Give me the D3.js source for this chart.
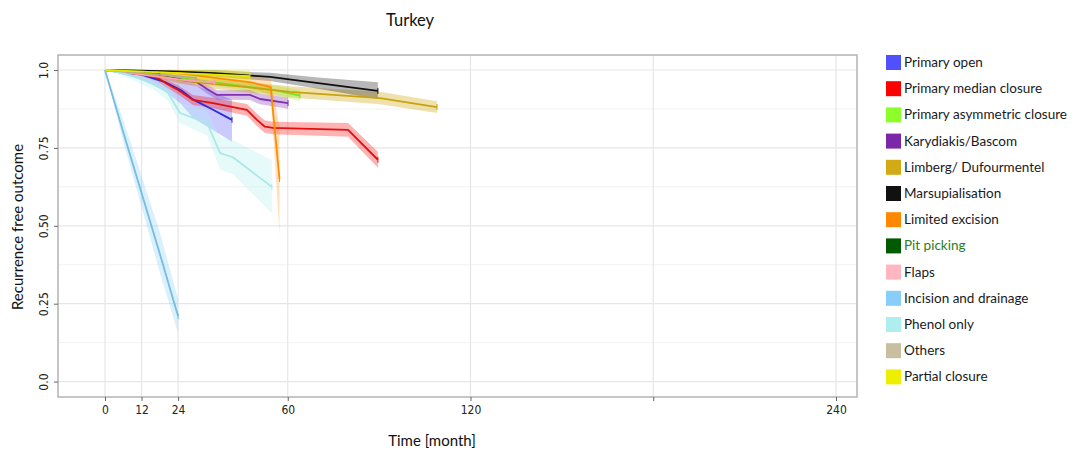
<!DOCTYPE html>
<html><head><meta charset="utf-8">
<script src="https://cdn.jsdelivr.net/npm/d3@7"></script>
<style>body{margin:0;background:#fff}svg{display:block}</style>
</head><body>
<svg id="c" width="1083" height="451"></svg>
<script>
// ---- data ----
const categories = ["Primary open","Primary median closure","Primary asymmetric closure","Karydiakis/Bascom","Limberg/ Dufourmentel","Marsupialisation","Limited excision","Pit picking","Flaps","Incision and drainage","Phenol only","Others","Partial closure"];
const legendColors = ["#5050ff","#ff0000","#8cff2a","#7b27a8","#d2aa14","#111111","#ff8800","#005a00","#ffb6c1","#87cefa","#afeeee","#c8bfa0","#eeee00"];
const lineColors   = ["#2a2ad8","#e01010","#7ee020","#8030b0","#c9a20c","#111111","#ff8c00","#005a00","#ff9fb0","#74bde0","#a8e8e8","#b8ad88","#e6e600"];
const xTicks = [0,12,24,60,120,180,240];
const xTickLabels = ["0","12","24","60","120","","240"];
const yTicks = [0,0.25,0.5,0.75,1.0];
const yTickLabels = ["0.0","0.25","0.50","0.75","1.0"];
// rows: [month, survival, lower, upper]
const primaryOpen = [[0,1,1,1],[12,0.985,0.97,0.995],[20,0.96,0.93,0.985],[25,0.935,0.89,0.97],[29,0.905,0.845,0.955],[35,0.875,0.81,0.93],[41.7,0.84,0.77,0.905]];
const primaryMedian = [[0,1,1,1],[11.8,0.99,0.982,0.998],[17.4,0.974,0.962,0.986],[20.4,0.955,0.942,0.968],[24,0.936,0.922,0.95],[28.9,0.904,0.888,0.92],[35.5,0.894,0.877,0.911],[42,0.881,0.863,0.899],[46.6,0.872,0.853,0.891],[49.9,0.84,0.82,0.86],[52.5,0.818,0.798,0.838],[55.2,0.814,0.794,0.834],[79.8,0.808,0.786,0.83],[89.6,0.712,0.686,0.738]];
const primaryAsym = [[0,1,1,1],[12,0.99,0.985,0.995],[24,0.975,0.965,0.985],[36,0.96,0.948,0.972],[48,0.945,0.932,0.958],[56,0.935,0.92,0.95],[64,0.918,0.9,0.936]];
const karydiakis = [[0,1,1,1],[13.8,0.99,0.982,0.998],[25.6,0.968,0.956,0.98],[30.2,0.961,0.948,0.974],[33.5,0.939,0.925,0.953],[36.8,0.92,0.905,0.935],[47.6,0.92,0.904,0.936],[50.9,0.907,0.89,0.924],[60.1,0.894,0.876,0.912]];
const limberg = [[0,1,1,1],[12,0.99,0.982,0.998],[24.6,0.968,0.956,0.98],[36,0.955,0.94,0.97],[46.6,0.945,0.928,0.962],[60.7,0.93,0.912,0.948],[75,0.92,0.901,0.939],[90.3,0.91,0.89,0.93],[109,0.881,0.862,0.9]];
const marsupialisation = [[0,1,1,1],[12,0.998,0.99,1],[24,0.995,0.985,1],[36,0.99,0.978,1],[49.2,0.981,0.969,0.993],[54.2,0.978,0.965,0.991],[70,0.958,0.94,0.976],[89.6,0.933,0.907,0.961]];
const limitedExcision = [[0,1,1,1],[12,0.995,0.99,1],[24,0.99,0.98,1],[36,0.975,0.96,0.99],[48,0.96,0.94,0.98],[54.4,0.945,0.92,0.97],[57.3,0.65,0.47,0.82]];
const pitPicking = [[0,1,1,1],[12,0.995,0.99,1],[18,0.99,0.98,1]];
const flaps = [[0,1,1,1],[12,0.985,0.975,0.995],[24,0.97,0.955,0.985],[36,0.96,0.94,0.98]];
const incisionDrainage = [[0,1,1,1],[6,0.80,0.77,0.84],[12,0.605,0.56,0.66],[18,0.41,0.35,0.48],[24,0.21,0.155,0.265]];
const phenolOnly = [[0,1,1,1],[6,0.99,0.98,1],[12,0.97,0.955,0.985],[17,0.95,0.93,0.97],[20.7,0.926,0.9,0.952],[24.6,0.862,0.83,0.895],[33.5,0.83,0.79,0.87],[37.8,0.733,0.68,0.785],[42,0.72,0.665,0.775],[54.8,0.625,0.54,0.71]];
const others = [[0,1,1,1],[12,0.99,0.98,1],[24,0.98,0.965,0.995],[30,0.975,0.96,0.99]];
const partialClosure = [[0,1,1,1],[12,0.995,0.985,1],[24,0.99,0.975,1],[36,0.985,0.968,1],[47.6,0.98,0.962,0.998]];
const seriesData = [primaryOpen,primaryMedian,primaryAsym,karydiakis,limberg,marsupialisation,limitedExcision,pitPicking,flaps,incisionDrainage,phenolOnly,others,partialClosure];
const ribbonOpacity = [0.3,0.3,0.3,0.3,0.35,0.3,0.25,0.3,0.3,0.3,0.3,0.3,0.45];

// ---- layout ----
const svg = d3.select("#c");
const P = {l:58, r:857, t:55, b:397};
const x = d3.scaleLinear().domain([-15.43, 246.9]).range([P.l, P.r]);
const y = d3.scaleLinear().domain([-0.0495, 1.0482]).range([P.b, P.t]);

// grid
const g = svg.append("g");
const yMinor = [0.125,0.375,0.625,0.875];
g.selectAll(".ym").data(yMinor).join("line")
  .attr("x1",P.l).attr("x2",P.r).attr("y1",d=>y(d)).attr("y2",d=>y(d))
  .attr("stroke","#f2f2f2").attr("stroke-width",1);
g.selectAll(".yM").data(yTicks).join("line")
  .attr("x1",P.l).attr("x2",P.r).attr("y1",d=>y(d)).attr("y2",d=>y(d))
  .attr("stroke","#e6e6e6").attr("stroke-width",1.2);
g.selectAll(".xM").data(xTicks).join("line")
  .attr("y1",P.t).attr("y2",P.b).attr("x1",d=>x(d)).attr("x2",d=>x(d))
  .attr("stroke","#e6e6e6").attr("stroke-width",1.2);

// ribbons
const area = d3.area().x(d=>x(d[0])).y0(d=>y(d[2])).y1(d=>y(d[3]));
const line = d3.line().x(d=>x(d[0])).y(d=>y(d[1]));
const plot = svg.append("g");
seriesData.forEach((s,i)=>{
  plot.append("path").attr("d",area(s)).attr("fill",legendColors[i]).attr("fill-opacity",ribbonOpacity[i]).attr("stroke","none");
});
seriesData.forEach((s,i)=>{
  plot.append("path").attr("d",line(s)).attr("fill","none").attr("stroke",lineColors[i]).attr("stroke-width",1.8).attr("stroke-linejoin","round");
  const last = s[s.length-1];
  plot.append("line")
    .attr("x1",x(last[0])).attr("x2",x(last[0])).attr("y1",y(last[1])-3).attr("y2",y(last[1])+3)
    .attr("stroke",lineColors[i]).attr("stroke-width",1);
});

// panel border
svg.append("rect").attr("x",P.l).attr("y",P.t).attr("width",P.r-P.l).attr("height",P.b-P.t)
  .attr("fill","none").attr("stroke","#b3b3b3").attr("stroke-width",1.5);

// axes
const xAxis = d3.axisBottom(x).tickValues(xTicks).tickFormat((d,i)=>xTickLabels[i]).tickSize(4).tickPadding(4);
const xa = svg.append("g").attr("transform",`translate(0,${P.b})`).call(xAxis);
xa.select(".domain").remove();
xa.selectAll(".tick line").attr("stroke","#666");
xa.selectAll("text").attr("font-family","'Liberation Sans Narrow','DejaVu Sans Condensed',Lato,sans-serif").attr("font-size",12).attr("fill","#222");

const yAxis = d3.axisLeft(y).tickValues(yTicks).tickFormat((d,i)=>yTickLabels[i]).tickSize(4).tickPadding(4);
const ya = svg.append("g").attr("transform",`translate(${P.l},0)`).call(yAxis);
ya.select(".domain").remove();
ya.selectAll(".tick line").attr("stroke","#666");
ya.selectAll("text").attr("font-family","'Liberation Sans Narrow','DejaVu Sans Condensed',Lato,sans-serif").attr("font-size",12).attr("fill","#222")
  .attr("x",0).attr("dy","0.35em").attr("text-anchor","middle")
  .attr("transform","translate(-14,0) rotate(-90)");

// titles
svg.append("text").attr("x",410).attr("y",26).attr("text-anchor","middle")
  .attr("font-family","Lato,sans-serif").attr("font-size",16.5).attr("fill","#111").text("Turkey");
svg.append("text").attr("x",432).attr("y",446).attr("text-anchor","middle")
  .attr("font-family","Lato,sans-serif").attr("font-size",15).attr("fill","#111").text("Time [month]");
svg.append("text").attr("transform","translate(23,227) rotate(-90)").attr("text-anchor","middle")
  .attr("font-family","Lato,sans-serif").attr("font-size",15).attr("fill","#111").text("Recurrence free outcome");

// legend
const lg = svg.append("g").attr("transform","translate(886,55)");
const rows = lg.selectAll("g").data(categories).join("g").attr("transform",(d,i)=>`translate(0,${i*26.2})`);
rows.append("rect").attr("width",15).attr("height",15).attr("fill",(d,i)=>legendColors[i]);
rows.append("text").attr("x",18).attr("y",12).attr("font-family","Lato,sans-serif").attr("font-size",13.5)
  .attr("fill",(d,i)=>d==="Pit picking"?"#2e7d1e":"#1a1a1a").text(d=>d);
</script>
</body></html>
